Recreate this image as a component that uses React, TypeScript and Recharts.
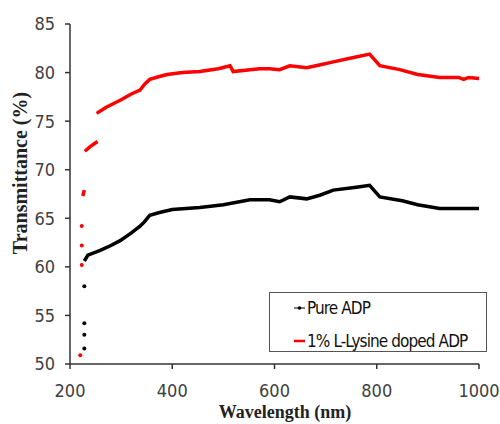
import React from 'react';
import { ComposedChart, Line, Scatter, XAxis, YAxis } from 'recharts';

// wavelength (nm) / transmittance (%)
const pureDots = [
  { x: 228, y: 58.0 },
  { x: 228, y: 54.2 },
  { x: 228, y: 53.0 },
  { x: 228, y: 51.6 },
];

const pureLine = [
  { x: 228, y: 60.6 }, { x: 235, y: 61.2 }, { x: 259, y: 61.7 }, { x: 280, y: 62.2 },
  { x: 298, y: 62.7 }, { x: 320, y: 63.5 }, { x: 337, y: 64.2 }, { x: 345, y: 64.6 },
  { x: 356, y: 65.3 }, { x: 375, y: 65.6 }, { x: 400, y: 65.9 }, { x: 454, y: 66.1 },
  { x: 500, y: 66.4 }, { x: 552, y: 66.9 }, { x: 590, y: 66.9 }, { x: 610, y: 66.7 },
  { x: 630, y: 67.2 }, { x: 663, y: 67.0 }, { x: 690, y: 67.4 }, { x: 715, y: 67.9 },
  { x: 760, y: 68.2 }, { x: 786, y: 68.4 }, { x: 806, y: 67.2 }, { x: 850, y: 66.8 },
  { x: 880, y: 66.4 }, { x: 923, y: 66.0 }, { x: 960, y: 66.0 }, { x: 1000, y: 66.0 },
];

const dopedDots = [
  { x: 223, y: 64.2 },
  { x: 223, y: 62.2 },
  { x: 223, y: 60.2 },
  { x: 220, y: 50.9 },
];

const dopedSeg1 = [
  { x: 225, y: 67.3 },
  { x: 228, y: 67.9 },
];

const dopedSeg2 = [
  { x: 229, y: 71.9 },
  { x: 240, y: 72.4 },
  { x: 254, y: 72.9 },
];

const dopedLine = [
  { x: 252, y: 75.8 }, { x: 270, y: 76.4 }, { x: 300, y: 77.2 }, { x: 320, y: 77.8 },
  { x: 337, y: 78.2 }, { x: 346, y: 78.8 }, { x: 356, y: 79.3 }, { x: 375, y: 79.6 },
  { x: 390, y: 79.8 }, { x: 420, y: 80.0 }, { x: 454, y: 80.1 }, { x: 490, y: 80.4 },
  { x: 513, y: 80.7 }, { x: 519, y: 80.1 }, { x: 571, y: 80.4 }, { x: 590, y: 80.4 },
  { x: 610, y: 80.3 }, { x: 630, y: 80.7 }, { x: 663, y: 80.5 }, { x: 690, y: 80.8 },
  { x: 715, y: 81.1 }, { x: 750, y: 81.5 }, { x: 786, y: 81.9 }, { x: 806, y: 80.7 },
  { x: 845, y: 80.3 }, { x: 880, y: 79.8 }, { x: 923, y: 79.5 }, { x: 960, y: 79.5 },
  { x: 970, y: 79.3 }, { x: 980, y: 79.5 }, { x: 1000, y: 79.4 },
];

const xTicks = [200, 400, 600, 800, 1000];
const yTicks = [50, 55, 60, 65, 70, 75, 80, 85];

const seriesNames = ['Pure ADP', '1% L-Lysine doped ADP'];
const seriesColors = ['#000000', '#ff0000'];

const tickFont = "'Liberation Sans Narrow', 'DejaVu Sans Condensed', sans-serif";
const titleFont = "'Liberation Serif', 'DejaVu Serif', serif";

const Dot = (props: any) => (
  <circle cx={props.cx} cy={props.cy} r={2} fill={props.fill} />
);

export default function App() {
  const tickStyle = { fontFamily: tickFont, fontSize: 18, fill: '#404040' };

  return (
    <div style={{ position: 'absolute', left: 0, top: 0, width: 500, height: 424, background: '#fff' }}>
      <ComposedChart width={500} height={424} margin={{ top: 24, right: 21, bottom: 0, left: 0 }}>
        <XAxis
          type="number"
          dataKey="x"
          domain={[200, 1000]}
          ticks={xTicks}
          height={60}
          tickSize={5}
          tickMargin={15}
          stroke="#333"
          strokeWidth={1.5}
          tick={tickStyle}
          allowDuplicatedCategory={false}
          label={{
            content: () => (
              <text x={285} y={418} textAnchor="middle" fontFamily={titleFont} fontWeight="bold" fontSize={18} fill="#222">
                Wavelength (nm)
              </text>
            ),
          }}
        />
        <YAxis
          type="number"
          dataKey="y"
          domain={[50, 85]}
          ticks={yTicks}
          width={70}
          tickSize={5}
          tickMargin={10}
          stroke="#333"
          strokeWidth={1.5}
          tick={tickStyle}
          label={{
            content: () => (
              <text
                x={27}
                y={173}
                transform="rotate(-90, 27, 173)"
                textAnchor="middle"
                fontFamily={titleFont}
                fontWeight="bold"
                fontSize={20}
                fill="#222"
              >
                Transmittance (%)
              </text>
            ),
          }}
        />
        <Line data={pureLine} dataKey="y" stroke={seriesColors[0]} strokeWidth={3.5} dot={false} isAnimationActive={false} />
        <Line data={dopedSeg1} dataKey="y" stroke={seriesColors[1]} strokeWidth={3.5} dot={false} isAnimationActive={false} />
        <Line data={dopedSeg2} dataKey="y" stroke={seriesColors[1]} strokeWidth={3.5} dot={false} isAnimationActive={false} />
        <Line data={dopedLine} dataKey="y" stroke={seriesColors[1]} strokeWidth={3.5} dot={false} isAnimationActive={false} />
        <Scatter data={pureDots} dataKey="y" fill={seriesColors[0]} shape={Dot} isAnimationActive={false} />
        <Scatter data={dopedDots} dataKey="y" fill={seriesColors[1]} shape={Dot} isAnimationActive={false} />
      </ComposedChart>

      {/* legend box */}
      <div
        style={{
          position: 'absolute',
          left: 269,
          top: 292,
          width: 216,
          height: 58,
          border: '1.5px solid #555',
          background: '#fff',
          fontFamily: tickFont,
          fontSize: 17,
          color: '#111',
          letterSpacing: -0.9,
        }}
      >
        {seriesNames.map((name, i) => (
          <div
            key={name}
            style={{ position: 'absolute', left: 23, top: 4 + i * 33, display: 'flex', alignItems: 'center', height: 22 }}
          >
            <svg width={13} height={10} style={{ marginRight: 1 }}>
              <line x1={1} y1={5} x2={12} y2={5} stroke={seriesColors[i]} strokeWidth={i === 0 ? 1 : 2.5} />
              {i === 0 && <circle cx={6.5} cy={5} r={1.8} fill={seriesColors[i]} />}
            </svg>
            <span>{name}</span>
          </div>
        ))}
      </div>
    </div>
  );
}
